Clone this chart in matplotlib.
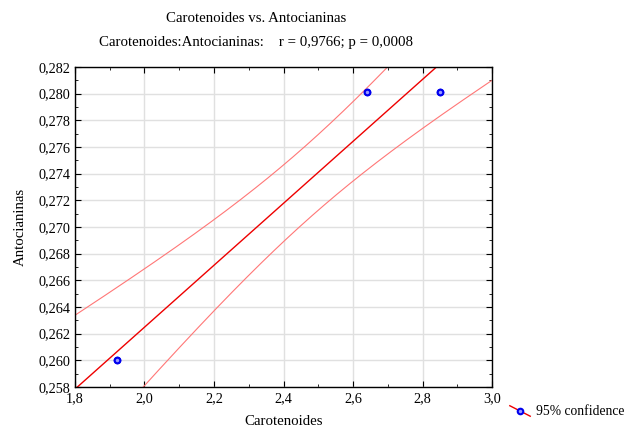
import numpy as np
import matplotlib.pyplot as plt
from matplotlib.ticker import MultipleLocator, FuncFormatter
from matplotlib.lines import Line2D
from matplotlib.legend_handler import HandlerBase

plt.rcParams['font.family'] = ['Liberation Serif', 'DejaVu Serif']

# data (each point appears twice: n = 6)
carotenoides = [1.92, 1.92, 2.64, 2.64, 2.85, 2.85]
antocianinas = [0.2600, 0.2600, 0.2801, 0.2801, 0.2801, 0.2801]
t_crit = 2.776  # t 0.975, df = 4

x = np.array(carotenoides)
y = np.array(antocianinas)
n = len(x)
b, a = np.polyfit(x, y, 1)
res = y - (a + b * x)
s = np.sqrt(np.sum(res ** 2) / (n - 2))
sxx = np.sum((x - x.mean()) ** 2)

xs = np.linspace(1.8, 3.0, 200)
yfit = a + b * xs
half = t_crit * s * np.sqrt(1 / n + (xs - x.mean()) ** 2 / sxx)


class DiagHandler(HandlerBase):
    # legend glyph: short diagonal red line with the point marker in the middle
    def create_artists(self, legend, orig, xd, yd, w, h, fontsize, trans):
        ln = Line2D([xd, xd + w], [yd + h, yd - 0.1 * h], color='#ee0000', lw=1, transform=trans)
        mk = Line2D([xd + w / 2], [yd + 0.45 * h], marker='o', ms=4, mfc='#9999ff',
                    mec='#0000ee', mew=1.5, ls='none', transform=trans)
        return [ln, mk]


fig = plt.figure(figsize=(6.35, 4.29), dpi=100)
ax = fig.add_axes([0.118, 0.098, 0.657, 0.746])

ax.plot(xs, yfit, color='#ee0000', lw=1.0)
ax.plot(xs, yfit + half, color='#ff7777', lw=0.8)
ax.plot(xs, yfit - half, color='#ff7777', lw=0.8)
pts, = ax.plot(x, y, 'o', ms=4, mfc='#9999ff', mec='#0000ee', mew=1.5, zorder=5)

ax.set_xlim(1.8, 3.0)
ax.set_ylim(0.258, 0.282)
ax.xaxis.set_major_locator(MultipleLocator(0.2))
ax.xaxis.set_minor_locator(MultipleLocator(0.1))
ax.yaxis.set_major_locator(MultipleLocator(0.002))
ax.yaxis.set_minor_locator(MultipleLocator(0.001))
ax.xaxis.set_major_formatter(FuncFormatter(lambda v, p: f"{v:.1f}".replace('.', ',')))
ax.yaxis.set_major_formatter(FuncFormatter(lambda v, p: f"{v:.3f}".replace('.', ',')))
ax.tick_params(which='both', direction='in', top=True, right=True, labelsize=10.3, color='black')
ax.tick_params(which='major', length=4)
ax.tick_params(which='minor', length=2.5)
ax.grid(True, which='major', color='#e0e0e0', lw=1)
ax.set_axisbelow(True)
for sp in ax.spines.values():
    sp.set_linewidth(1)

ax.set_xlabel("Carotenoides", fontsize=10.7, labelpad=7.5)
ax.set_ylabel("Antocianinas", fontsize=10.7, labelpad=8)

fig.text(0.403, 0.958, "Carotenoides vs. Antocianinas", ha='center', va='center', fontsize=10.7)
fig.text(0.403, 0.902, "Carotenoides:Antocianinas:    r = 0,9766; p = 0,0008",
         ha='center', va='center', fontsize=10.7)

fig.legend([pts], ["95% confidence"], loc='lower left', bbox_to_anchor=(0.79, 0.006),
           frameon=False, fontsize=9.8, handlelength=1.5, handletextpad=0.4,
           borderaxespad=0.2, handler_map={pts: DiagHandler()})

fig.savefig("out.png", dpi=100)
